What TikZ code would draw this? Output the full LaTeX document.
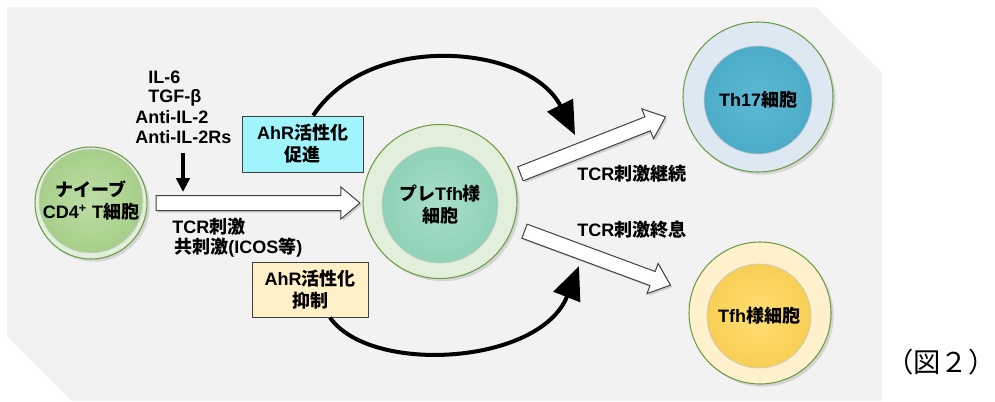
\documentclass[tikz,border=0pt]{standalone}
\usepackage{fontspec}
\setmainfont{Liberation Sans}
\newfontfamily\jpf{Noto Sans CJK JP}
\usetikzlibrary{shapes.arrows,arrows.meta,shadows,calc}
\definecolor{bgGray}{HTML}{F2F2F2}
\definecolor{cellBorder}{HTML}{6E9B45}
\definecolor{paleGreen}{HTML}{E2EFDA}
\definecolor{paleBlue}{HTML}{DDE8F3}
\definecolor{paleYellow}{HTML}{FFF1CC}
\definecolor{naiveIn}{HTML}{BEDDA5}
\definecolor{naiveOut}{HTML}{A6CF89}
\definecolor{preIn}{HTML}{A8DEC8}
\definecolor{preOut}{HTML}{8FD2B6}
\definecolor{thIn}{HTML}{5DB8D2}
\definecolor{thOut}{HTML}{4CACC8}
\definecolor{tfhIn}{HTML}{FFDE72}
\definecolor{tfhOut}{HTML}{F8CF55}
\definecolor{cyanBox}{HTML}{A0F4FC}
\definecolor{creamBox}{HTML}{FFF0C8}
\definecolor{arrowGray}{HTML}{404040}
\newcommand{\J}[1]{{\jpf #1}}
\newcommand{\blockarrow}[3]{%
  \path let \p1=(#2), \p2=(#3),
    \n1={atan2(\y2-\y1,\x2-\x1)}, \n2={veclen(\x2-\x1,\y2-\y1)} in
    node[blockarr, minimum height=\n2, rotate=\n1, anchor=tail] (#1) at (#2) {};}
\tikzset{
  lbl/.style={font=\fontsize{13.5}{16}\selectfont\bfseries, inner sep=0pt},
  outercell/.style={circle, draw=cellBorder, line width=0.8pt, inner sep=0pt,
    drop shadow={shadow xshift=2pt, shadow yshift=-2pt, opacity=0.25}},
  innercell/.style={circle, draw=black!22, line width=0.5pt, inner sep=0pt, align=center,
    font=\fontsize{13.5}{16.5}\selectfont\bfseries},
  blockarr/.style={single arrow, draw=arrowGray, fill=white, line width=0.75pt,
    inner sep=0pt, text height=10.5pt, text depth=0pt,
    single arrow head extend=6.4pt, single arrow tip angle=80,
    drop shadow={shadow xshift=1.5pt, shadow yshift=-1.5pt, opacity=0.3}},
  ahrbox/.style={draw=arrowGray, line width=0.75pt, align=center, inner sep=0pt,
    font=\fontsize{13.5}{16.5}\selectfont\bfseries},
  curvearrow/.style={line width=3pt, -{Triangle[length=25pt,width=21pt]}},
}
\begin{document}
\begin{tikzpicture}[x=0.75pt, y=-0.75pt]
\useasboundingbox (0,0) rectangle (995,401);
% background
\fill[bgGray] (7,7) -- (816,7) -- (882,72) -- (882,401) -- (72,401) -- (7,336) -- cycle;

% cells
\node[outercell, fill=paleGreen, minimum size=112*0.75pt] (naiveO) at (91,203) {};
\node[innercell, inner color=naiveIn, outer color=naiveOut, minimum size=90*0.75pt] (naive) at (91,201)
  {\J{ナイーブ}\\CD4\textsuperscript{+} T\J{細胞}};

\node[outercell, fill=paleGreen, minimum size=154*0.75pt] (preO) at (440,201.5) {};
\node[innercell, inner color=preIn, outer color=preOut, minimum size=116*0.75pt] (pre) at (440,205)
  {\J{プレ}Tfh\J{様}\\\J{細胞}};

\node[outercell, fill=paleBlue, minimum size=150*0.75pt] (thO) at (758,97) {};
\node[innercell, inner color=thIn, outer color=thOut, minimum size=108*0.75pt] (th) at (758,100)
  {Th17\J{細胞}};

\node[outercell, fill=paleYellow, minimum size=142*0.75pt] (tfhO) at (760,313) {};
\node[innercell, inner color=tfhIn, outer color=tfhOut, minimum size=104*0.75pt] (tfh) at (759,316)
  {Tfh\J{様細胞}};

% block arrows
\coordinate (hS) at ($(naiveO.east)+(8,0)$);
\coordinate (hE) at ($(preO.west)+(-3,1.5)$);
\coordinate (uS) at (520,174);
\coordinate (uE) at (665,117);
\coordinate (dS) at (524,231);
\coordinate (dE) at (670,285);
\blockarrow{arrH}{hS}{hE}
\blockarrow{arrU}{uS}{uE}
\blockarrow{arrD}{dS}{dE}

% cytokine labels
\node[lbl, anchor=west] (cyto1) at (148,77) {IL-6};
\node[lbl, anchor=west] (cyto2) at (148,98) {TGF-β};
\node[lbl, anchor=west] (cyto3) at (135,117) {Anti-IL-2};
\node[lbl, anchor=west] (cyto4) at (135,137) {Anti-IL-2Rs};
\coordinate (vS) at (183,153);
\coordinate (vE) at (183,192);
\draw[line width=2.6pt, -{Triangle[length=10.5pt,width=10pt]}] (vS) -- (vE);

\node[lbl, anchor=west] (tcr1) at (172,227) {TCR\J{刺激}};
\node[lbl, anchor=west] (tcr2) at (174,248) {\J{共刺激}(ICOS\J{等})};
\node[lbl, anchor=west] (tcr3) at (577,174) {TCR\J{刺激継続}};
\node[lbl, anchor=west] (tcr4) at (577,230) {TCR\J{刺激終息}};

% curved arrows
\coordinate (tipU) at (575,135);
\coordinate (tipL) at (579,266);
\node[ahrbox, fill=cyanBox, minimum width=121*0.75pt, minimum height=56*0.75pt] (box1) at (302.5,144)
  {AhR\J{活性化}\\\J{促進}};
\node[ahrbox, fill=creamBox, minimum width=116*0.75pt, minimum height=55*0.75pt] (box2) at (310,289.5)
  {AhR\J{活性化}\\\J{抑制}};
\draw[curvearrow] ([xshift=8pt]box1.north) .. controls (370,30) and (530,45) .. (tipU);
\draw[curvearrow] ([xshift=15pt]box2.south) .. controls (370,375) and (540,365) .. (tipL);

\node[font=\fontsize{20.5}{23}\selectfont\jpf, inner sep=0pt, anchor=west] (fig) at (886,362) {（図２）};
\end{tikzpicture}
\end{document}
